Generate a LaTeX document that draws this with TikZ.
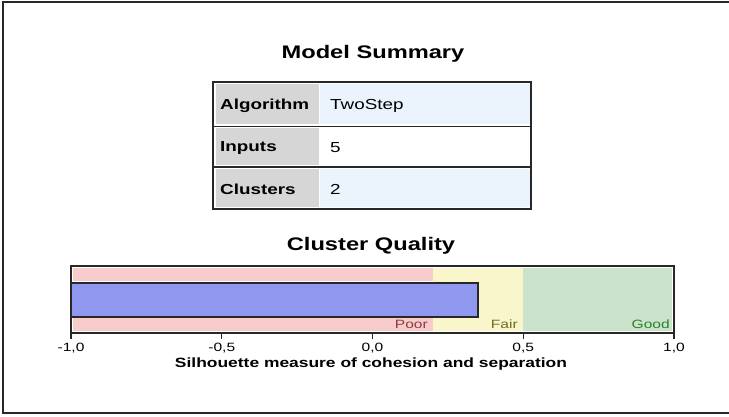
\documentclass[tikz,border=0pt]{standalone}
\usepackage{fontspec}
\setmainfont{Liberation Sans}[FakeStretch=1.3]
\definecolor{pinkz}{RGB}{248,203,205}
\definecolor{yellowz}{RGB}{250,246,204}
\definecolor{greenz}{RGB}{203,226,203}
\definecolor{barblue}{RGB}{143,152,238}
\definecolor{cellgray}{RGB}{214,214,214}
\definecolor{cellblue}{RGB}{235,244,252}
\definecolor{poorc}{RGB}{140,60,60}
\definecolor{fairc}{RGB}{110,110,30}
\definecolor{goodc}{RGB}{40,130,40}
\definecolor{framec}{RGB}{40,40,40}
\tikzset{
  title/.style={font=\fontsize{18.2}{20}\selectfont\bfseries, inner sep=0pt},
  lab/.style={font=\fontsize{14.5}{16}\selectfont\bfseries, anchor=west, inner sep=0pt},
  val/.style={font=\fontsize{14.5}{16}\selectfont, anchor=west, inner sep=0pt},
  tick/.style={font=\fontsize{12}{13}\selectfont, inner sep=0pt},
  zone/.style={font=\fontsize{12}{13}\selectfont, anchor=east, inner sep=0pt},
  axis/.style={font=\fontsize{13.4}{14}\selectfont\bfseries, inner sep=0pt},
}
\begin{document}
\begin{tikzpicture}[x=1pt,y=-1pt]
\useasboundingbox (0,0) rectangle (729,416);
% outer frame
\draw[line width=2pt, framec] (729,2) -- (3,2) -- (3,413) -- (729,413);
% titles
\node[title] (t1) at (373,53.5) {Model Summary};
\node[title] (t2) at (371,245.5) {Cluster Quality};
% table
\fill[cellgray] (216,84) rectangle (319,124);
\fill[cellblue] (320,84) rectangle (530,124);
\fill[cellgray] (216,128) rectangle (319,165);
\fill[cellgray] (216,169) rectangle (319,207);
\fill[cellblue] (320,169) rectangle (530,207);
\draw[line width=1.5pt, framec] (213,82) rectangle (531,209);
\draw[line width=1.5pt, framec] (213,126.5) -- (531,126.5);
\draw[line width=1.5pt, framec] (213,167) -- (531,167);
\node[lab] (l1) at (220,106) {Algorithm};
\node[val] (v1) at (330,106) {TwoStep};
\node[lab] (l2) at (220,148) {Inputs};
\node[val] (v2) at (330,148) {5};
\node[lab] (l3) at (220,189) {Clusters};
\node[val] (v3) at (330,189) {2};
% chart zones
\fill[pinkz] (73,268) rectangle (433,281);
\fill[pinkz] (73,318) rectangle (433,331);
\fill[yellowz] (433,268) rectangle (523,331);
\fill[greenz] (523,268) rectangle (672,331);
% bar
\draw[line width=1.2pt, framec, fill=barblue] (71,283) rectangle (478,317);
% frame
\draw[line width=1.5pt, framec] (71,333) -- (71,266) -- (674,266) -- (674,333) -- cycle;
% ticks
\foreach \x/\t in {71/{-1,0},221.75/{-0,5},372.5/{0,0},523.25/{0,5},674/{1,0}}{
  \draw[line width=1.2pt, framec] (\x,333) -- (\x,339);
  \node[tick] at (\x,348) {\t};
}
\node[zone, text=poorc] (poor) at (428,324) {Poor};
\node[zone, text=fairc] (fair) at (518,324) {Fair};
\node[zone, text=goodc] (good) at (670,324) {Good};
\node[axis] (ax) at (371,364) {Silhouette measure of cohesion and separation};
\end{tikzpicture}
\end{document}
